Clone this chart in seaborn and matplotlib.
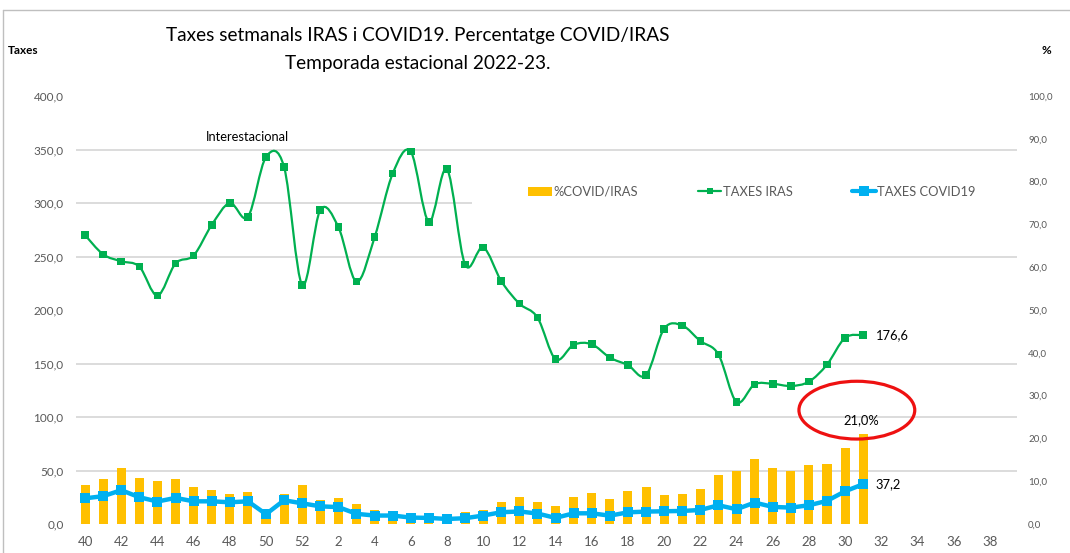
import numpy as np
import pandas as pd
import matplotlib
matplotlib.use('Agg')
import matplotlib.pyplot as plt
import seaborn as sns
from matplotlib.path import Path
from matplotlib.patches import PathPatch, Patch, Ellipse, Rectangle
from matplotlib.lines import Line2D

# ---------------- data ----------------
weeks = list(range(40, 53)) + list(range(1, 40))          # epidemiological weeks on the axis
iras = [270.0, 252.0, 245.5, 240.5, 213.5, 243.5, 251.0, 279.5, 300.0, 287.0,
        343.0, 333.5, 223.5, 293.5, 277.5, 226.5, 268.0, 327.5, 348.0, 282.5,
        331.5, 242.5, 258.5, 227.0, 206.0, 193.0, 154.0, 167.5, 168.0, 155.5,
        148.5, 139.0, 182.5, 185.5, 171.0, 158.5, 114.0, 130.5, 131.0, 129.0,
        133.0, 149.0, 174.0, 176.6]
covid = [24.0, 26.0, 31.6, 25.0, 21.0, 24.4, 21.2, 21.2, 20.3, 21.2,
         9.2, 22.2, 19.3, 16.5, 15.8, 9.5, 7.9, 7.9, 6.0, 5.7,
         4.7, 5.4, 7.9, 11.0, 11.7, 9.8, 5.7, 10.0, 10.0, 7.8,
         10.9, 11.6, 11.9, 12.2, 13.1, 17.5, 13.8, 20.0, 16.0, 15.3,
         17.5, 21.6, 30.6, 37.2]
pct = [9.2, 10.6, 13.0, 10.8, 10.1, 10.6, 8.6, 7.9, 7.0, 7.4,
       3.2, 7.0, 9.2, 5.7, 6.0, 4.6, 3.3, 2.9, 2.6, 2.5,
       2.0, 2.7, 3.3, 5.2, 6.2, 5.2, 4.3, 6.3, 7.3, 5.8,
       7.7, 8.7, 6.7, 7.0, 8.1, 11.5, 12.4, 15.1, 13.0, 12.3,
       13.9, 14.1, 17.7, 21.0]
left_ticks = [0, 50, 100, 150, 200, 250, 300, 350, 400]
right_ticks = [0, 10, 20, 30, 40, 50, 60, 70, 80, 90, 100]

title1 = "Taxes setmanals IRAS i COVID19. Percentatge COVID/IRAS"
title2 = "Temporada estacional 2022-23."

pos = np.arange(len(iras))
df = pd.DataFrame({"pos": pos, "iras": iras, "covid": covid, "pct": pct})

YELLOW = "#FFC000"
GREEN = "#00B050"
BLUE = "#00B0F0"
GRID = "#D9D9D9"
TXT = "#595959"

sns.set_style("white")
plt.rcParams['font.family'] = ['Lato', 'DejaVu Sans']

fig = plt.figure(figsize=(10.7, 5.53), dpi=100)
ax = fig.add_axes([76 / 1070, 29 / 553, 941 / 1070, 428 / 553])   # bars, % axis (right)
ax2 = ax.twinx()                                                  # lines, Taxes axis (left)

# bars
sns.barplot(data=df, x="pos", y="pct", native_scale=True, width=0.5, color=YELLOW,
            saturation=1, errorbar=None, ax=ax, linewidth=0)

# smoothed IRAS line (Bezier through the data points, like a smoothed spreadsheet line)
P = np.column_stack([pos, iras]).astype(float)
verts = [tuple(P[0])]
codes = [Path.MOVETO]
n = len(P)
for i in range(n - 1):
    p0 = P[i - 1] if i > 0 else P[i]
    p1 = P[i]
    p2 = P[i + 1]
    p3 = P[i + 2] if i + 2 < n else P[i + 1]
    c1 = p1 + (p2 - p0) / 6.0
    c2 = p2 - (p3 - p1) / 6.0
    verts += [tuple(c1), tuple(c2), tuple(p2)]
    codes += [Path.CURVE4] * 3
ax2.add_patch(PathPatch(Path(verts, codes), fill=False, edgecolor=GREEN, lw=1.6, zorder=3))
sns.scatterplot(data=df, x="pos", y="iras", marker="s", s=30, color=GREEN,
                edgecolor="none", ax=ax2, zorder=4)

# COVID line
sns.lineplot(data=df, x="pos", y="covid", marker="s", markersize=6.5, markeredgewidth=0,
             linewidth=3.2, color=BLUE, ax=ax2, zorder=5)

# axes config
ax.set_xlim(-0.5, len(weeks) - 0.5)
ax.set_ylim(0, 100)
ax2.set_ylim(0, 400)
ax.set_xticks(np.arange(0, len(weeks), 2))
ax.set_xticklabels([str(w) for w in weeks[::2]])
ax.yaxis.tick_right()
ax2.yaxis.tick_left()
ax.set_yticks(right_ticks)
ax.set_yticklabels([f"{v:.1f}".replace('.', ',') for v in right_ticks])
ax2.set_yticks(left_ticks)
ax2.set_yticklabels([f"{v:.1f}".replace('.', ',') for v in left_ticks])
ax.set_yticks(np.array(left_ticks) / 4.0, minor=True)
ax.grid(False)
ax2.grid(False)
ax.grid(True, which='minor', axis='y', color=GRID, lw=1.3)
ax.set_axisbelow(True)
ax.set_xlabel("")
ax.set_ylabel("")
ax2.set_xlabel("")
ax2.set_ylabel("")
for a in (ax, ax2):
    for s in a.spines.values():
        s.set_visible(False)
ax.tick_params(axis='x', length=0, labelsize=9.5, labelcolor=TXT, pad=9)
ax.tick_params(axis='y', which='both', length=0, labelsize=7, labelcolor=TXT, pad=8)
ax2.tick_params(axis='y', length=0, labelsize=8.5, labelcolor=TXT, pad=9)

# legend with white background band
ax2.add_patch(Rectangle((0.421, 0.722), 0.579, 0.088, transform=ax2.transAxes,
                        facecolor='white', edgecolor='none', zorder=1))
handles = [Patch(facecolor=YELLOW, edgecolor='none'),
           Line2D([], [], color=GREEN, lw=1.6, marker='s', markersize=5, markeredgewidth=0),
           Line2D([], [], color=BLUE, lw=3, marker='s', markersize=6.5, markeredgewidth=0)]
labels = ["%COVID/IRAS", "TAXES IRAS", "TAXES COVID19"]
leg = ax2.legend(handles, labels, ncol=3, loc='center', frameon=False,
                 bbox_to_anchor=(752 / 1070, 1 - 192 / 553), bbox_transform=fig.transFigure,
                 fontsize=9.3, handlelength=1.85, handletextpad=0.1, columnspacing=4.6)
for t in leg.get_texts():
    t.set_color(TXT)

# annotations
ax2.text(9, 362, "Interestacional", ha='center', va='center', fontsize=9.3, color='black')
ax2.annotate("176,6", xy=(pos[-1], iras[-1]), xytext=(9, 0), textcoords='offset points',
             ha='left', va='center', fontsize=9.3, color='black')
ax2.annotate("37,2", xy=(pos[-1], covid[-1]), xytext=(9, 0), textcoords='offset points',
             ha='left', va='center', fontsize=9.3, color='black')
ax.annotate("21,0%", xy=(pos[-1], pct[-1]), xytext=(-1, 10), textcoords='offset points',
            ha='center', va='center', fontsize=9.3, color='black')
ax2.add_patch(Ellipse((pos[-1] - 0.35, (pct[-1] + 5.6) * 4), width=6.4, height=54,
                      fill=False, edgecolor='#EE1111', lw=2.3, zorder=6, clip_on=False))

# titles
fig.text(418 / 1070, 1 - 36 / 553, title1, ha='center', va='center', fontsize=13.7, color='black')
fig.text(418 / 1070, 1 - 64 / 553, title2, ha='center', va='center', fontsize=13.7, color='black')
fig.text(8 / 1070, 1 - 50 / 553, "Taxes", ha='left', va='center', fontsize=8.5,
         fontweight='bold', color='black')
fig.text(1046 / 1070, 1 - 50 / 553, "%", ha='center', va='center', fontsize=8.5,
         fontweight='bold', color='black')

# chart border (top and left)
fig.add_artist(Line2D([3 / 1070, 1], [1 - 10 / 553, 1 - 10 / 553], transform=fig.transFigure,
                      color='#BFBFBF', lw=1))
fig.add_artist(Line2D([3 / 1070, 3 / 1070], [0, 1 - 10 / 553], transform=fig.transFigure,
                      color='#BFBFBF', lw=1))

fig.savefig("out.png", dpi=100)
